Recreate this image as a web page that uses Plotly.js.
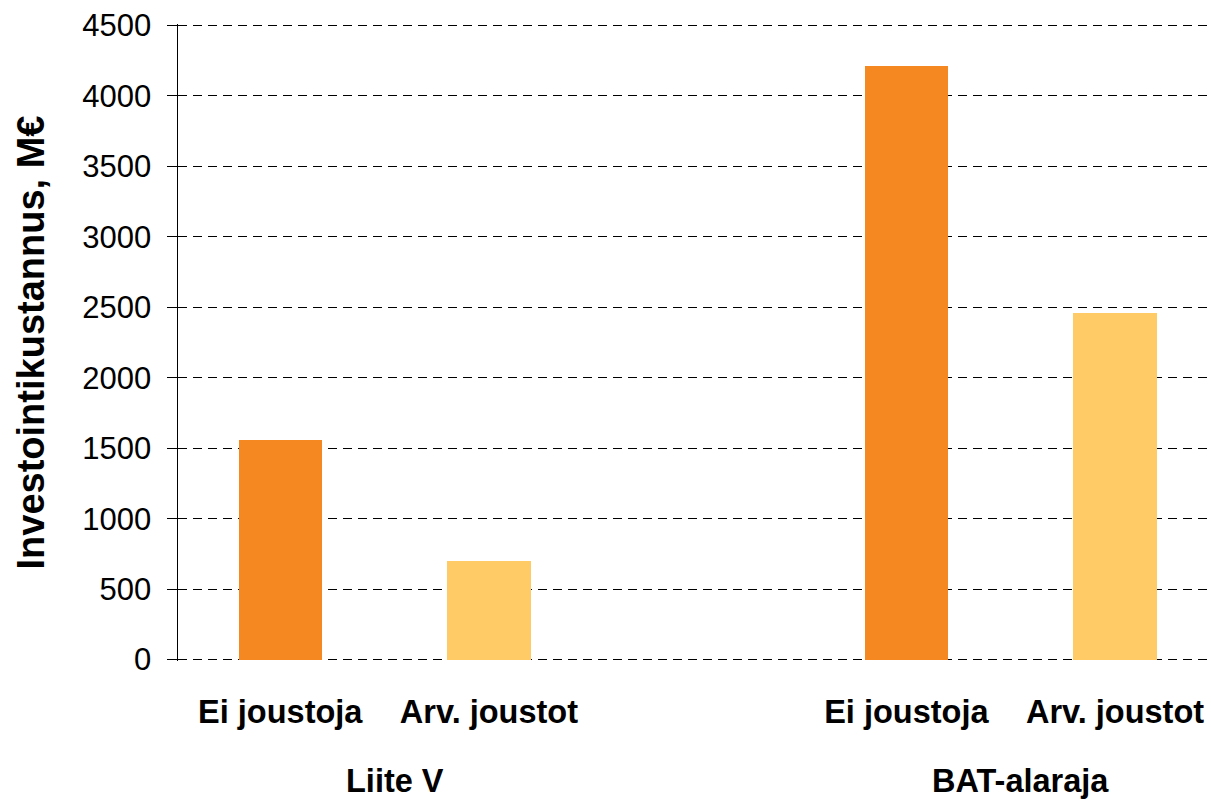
<!DOCTYPE html>
<html>
<head>
<meta charset="utf-8">
<script src="https://cdn.plot.ly/plotly-3.0.1.min.js"></script>
<style>html,body{margin:0;padding:0;background:#fff;}#chart{width:1211px;height:800px;}</style>
</head>
<body>
<div id="chart"></div>
<script>
var groups = ["Liite V", "BAT-alaraja"];
var subCategories = ["Ei joustoja", "Arv. joustot"];
var valuesEiJoustoja = [1555, 4210];
var valuesArvJoustot = [700, 2460];
var yTicks = [0, 500, 1000, 1500, 2000, 2500, 3000, 3500, 4000, 4500];

var slotsPerGroup = 3;
function pos(g, s) { return g * slotsPerGroup + s; }

var xEi = groups.map(function (g, i) { return pos(i, 0); });
var xArv = groups.map(function (g, i) { return pos(i, 1); });

var tickVals = [], tickText = [];
groups.forEach(function (g, i) {
  subCategories.forEach(function (s, j) { tickVals.push(pos(i, j)); tickText.push('<b>' + s + '</b>'); });
});

var traces = [
  { type: 'bar', x: xEi, y: valuesEiJoustoja, width: 0.4, marker: { color: '#F58820' }, name: subCategories[0], hoverinfo: 'y' },
  { type: 'bar', x: xArv, y: valuesArvJoustot, width: 0.4, marker: { color: '#FECB67' }, name: subCategories[1], hoverinfo: 'y' }
];

var annotations = groups.map(function (g, i) {
  return {
    x: (pos(i, 0) + pos(i, 1)) / 2, y: 0, xref: 'x', yref: 'paper', yshift: -120, xshift: 10,
    text: '<b>' + g + '</b>', showarrow: false, xanchor: 'center', yanchor: 'middle',
    font: { family: 'Liberation Sans, Arial, sans-serif', size: 32.5, color: '#000' }
  };
});

var layout = {
  width: 1211, height: 800,
  margin: { l: 178, r: 0, t: 23.6, b: 138.6 },
  paper_bgcolor: '#fff', plot_bgcolor: '#fff',
  showlegend: false,
  bargap: 0,
  font: { family: 'Liberation Sans, Arial, sans-serif', color: '#000' },
  xaxis: {
    range: [-0.49, 4.46],
    tickvals: tickVals, ticktext: tickText,
    showgrid: false, zeroline: false, showline: false, ticks: '',
    tickfont: { size: 32.5, color: '#000' },
    ticklabelstandoff: 28
  },
  yaxis: {
    range: [-10, 4510],
    tickvals: yTicks,
    showgrid: true, gridcolor: '#000', gridwidth: 1, griddash: '9px,6px',
    zeroline: false,
    showline: true, linecolor: '#000', linewidth: 1.5,
    ticks: 'outside', ticklen: 10, tickcolor: '#000',
    tickfont: { size: 31, color: '#000' },
    ticklabelstandoff: 9,
    title: { text: '<b>Investointikustannus, M€</b>', font: { size: 38, color: '#000' }, standoff: 26 }
  },
  annotations: annotations
};

Plotly.newPlot('chart', traces, layout, { displayModeBar: false, staticPlot: true });
</script>
</body>
</html>
